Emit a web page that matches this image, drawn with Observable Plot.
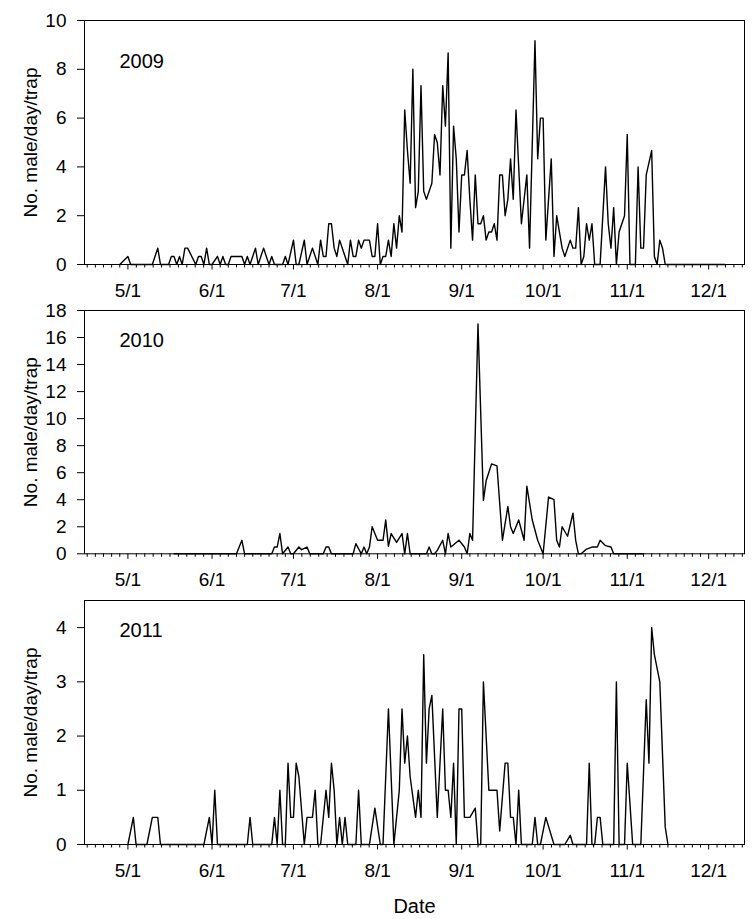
<!DOCTYPE html>
<html>
<head>
<meta charset="utf-8">
<script src="https://cdn.jsdelivr.net/npm/d3@7"></script>
<script src="https://cdn.jsdelivr.net/npm/@observablehq/plot@0.6"></script>
<style>
  html, body { margin: 0; padding: 0; background: #fff; }
  #chart svg { display: block; }
</style>
</head>
<body>
<div id="chart"></div>
<script>
// ---- data ----
const dates2009 = ["4/28","5/1","5/2","5/10","5/12","5/13","5/16","5/17","5/18","5/19","5/20","5/21","5/22","5/23","5/26","5/27","5/28","5/29","5/30","5/31",
  "6/1","6/3","6/4","6/5","6/6","6/7","6/8","6/12","6/13","6/14","6/15","6/17","6/18","6/20","6/21","6/22","6/23","6/24","6/27","6/28","6/29",
  "7/1","7/2","7/3","7/5","7/6","7/8","7/10","7/11","7/12","7/13","7/14","7/15","7/16","7/17","7/18","7/21","7/22","7/23","7/24","7/25","7/26","7/27","7/28","7/29","7/30","7/31",
  "8/1","8/2","8/3","8/4","8/5","8/6","8/7","8/8","8/9","8/10","8/11","8/12","8/13","8/14","8/15","8/16","8/17","8/18","8/19","8/21","8/22","8/23","8/24","8/25","8/26","8/27","8/28","8/29","8/30","8/31",
  "9/1","9/2","9/3","9/4","9/5","9/6","9/7","9/8","9/9","9/10","9/11","9/12","9/13","9/14","9/15","9/16","9/17","9/18","9/19","9/20","9/21","9/23","9/25","9/26","9/28","9/29","9/30",
  "10/1","10/2","10/4","10/5","10/6","10/8","10/9","10/11","10/12","10/13","10/14","10/15","10/16","10/17","10/18","10/19","10/20","10/22","10/24","10/25","10/26","10/27","10/28","10/29","10/31",
  "11/1","11/2","11/4","11/5","11/6","11/7","11/8","11/10","11/11","11/12","11/13","11/14","11/15","12/7"];
const values2009 = [0,0.33,0,0,0.67,0,0,0.33,0.33,0,0.33,0,0.67,0.67,0,0.33,0.33,0,0.67,0,
  0,0.33,0,0.33,0,0,0.33,0.33,0,0.33,0,0.67,0,0.67,0.33,0,0.33,0,0,0.33,0,
  1,0,0,1,0,0.67,0,1,0.33,0.33,1.67,1.67,0.67,0.33,1,0,1,0.33,0.33,1,0.67,1,1,1,0.33,0.33,
  1.67,0,0.33,0.33,1,0.33,1.67,0.67,2,1.33,6.33,4.67,3.33,8,2.33,3,7.33,3,2.67,3.33,5.33,5,3.67,7.33,5.67,8.67,0.67,5.67,4.33,1.33,
  3.67,3.67,4.67,2.67,1,3.67,1.67,1.67,2,1,1.33,1.33,1.67,1,3.67,3.67,2,2.67,4.33,2.67,6.33,1.67,3.67,0.67,9.17,4.33,6,
  6,1,4.33,0.33,2,0.67,0.33,1,0.67,0.67,2.33,0,0.33,1.67,1,1.67,0,0,4,1.67,0.67,2.33,0,1.33,2,
  5.33,0,0,4,0.67,0.67,3.67,4.67,0.33,0,1,0.67,0,0];

const dates2010 = ["5/18","6/10","6/12","6/13","6/23","6/24","6/25","6/26","6/27","6/29","6/30",
  "7/1","7/3","7/4","7/6","7/7","7/12","7/13","7/14","7/15","7/23","7/24","7/26","7/27","7/28","7/29","7/30",
  "8/1","8/3","8/4","8/5","8/6","8/8","8/10","8/11","8/12","8/13","8/19","8/20","8/21","8/22","8/23","8/25","8/26","8/27","8/28","8/31",
  "9/2","9/3","9/4","9/5","9/7","9/9","9/10","9/12","9/14","9/16","9/18","9/19","9/20","9/22","9/24","9/25","9/27","9/29","9/30",
  "10/1","10/3","10/5","10/6","10/7","10/8","10/10","10/12","10/13","10/14","10/15","10/17","10/19","10/21","10/22","10/24","10/26","10/27","11/7"];
const values2010 = [0,0,1,0,0,0.5,0.5,1.5,0,0.5,0,
  0,0.5,0.3,0.5,0,0,0.5,0.5,0,0,0.75,0,0.5,0,0.5,2,
  1,1,2.5,0.55,1.5,0.85,1.5,0,1.5,0,0,0.5,0,0,0.25,1,0,1.5,0.5,1,
  0.5,0,1.5,1,17,3.95,5.4,6.65,6.5,1,3.5,2,1.5,2.5,1,5,2.5,1,0.5,
  0,4.2,4,1,0.5,2,1.3,3,1,0,0,0.35,0.5,0.5,1,0.6,0.5,0,0];

const dates2011 = ["5/1","5/3","5/4","5/8","5/10","5/12","5/13","5/29","5/31",
  "6/1","6/2","6/3","6/14","6/15","6/16","6/23","6/24","6/25","6/26","6/27","6/28","6/29","6/30",
  "7/1","7/2","7/3","7/5","7/6","7/8","7/9","7/10","7/11","7/13","7/14","7/15","7/16","7/17","7/18","7/19","7/20","7/21","7/24","7/25","7/26","7/29","7/31",
  "8/2","8/3","8/5","8/7","8/9","8/10","8/11","8/12","8/13","8/15","8/16","8/17","8/18","8/19","8/20","8/21","8/23","8/25","8/26","8/27","8/28","8/29","8/30","8/31",
  "9/1","9/2","9/4","9/6","9/7","9/8","9/9","9/11","9/14","9/15","9/17","9/18","9/19","9/20","9/21","9/22","9/23","9/27","9/28","9/29","9/30",
  "10/2","10/5","10/9","10/11","10/12","10/17","10/18","10/19","10/20","10/21","10/22","10/23","10/27","10/28","10/29","10/31",
  "11/1","11/3","11/6","11/8","11/9","11/10","11/11","11/13","11/15","11/16"];
const values2011 = [0,0.5,0,0,0.5,0.5,0,0,0.5,
  0,1,0,0,0.5,0,0,0.5,0,1,0,0,1.5,0.5,
  0.5,1.5,1.25,0,0.5,0.5,1,0,0,1,0.5,1.5,1,0,0.5,0,0.5,0,0,1,0,0,0.67,
  0,0,2.5,0,1,2.5,1.5,2,1.25,0.5,1,0.5,3.5,1.5,2.5,2.75,0.5,2.5,1,1,0.5,1.5,0,2.5,
  2.5,0.5,0.5,0.67,0,0,3,1,1,0.25,1.5,1.5,0.5,0.5,0,1,0,0,0.5,0,0,
  0.5,0,0,0.17,0,0,1.5,0,0,0.5,0.5,0,0,3,0,0,
  1.5,0,0,2.67,1.5,4,3.5,3,0.32,0];

const monthTickLabels = ["5/1","6/1","7/1","8/1","9/1","10/1","11/1","12/1"];
const minorTickMonths = [4,5,6,7,8,9,10,11,12];
const yTicks2009 = [0,2,4,6,8,10];
const yTicks2010 = [0,2,4,6,8,10,12,14,16,18];
const yTicks2011 = [0,1,2,3,4];
const yLabel = "No. male/day/trap";
const xLabel = "Date";

// ---- helpers ----
function toDate(year, md) {
  const [m, d] = md.split("/").map(Number);
  return new Date(Date.UTC(year, m - 1, d));
}
function minorTicks(year) {
  const out = [];
  for (const m of minorTickMonths) {
    const start = Date.UTC(year, m - 1, 1);
    const end = Date.UTC(year, m, 1);
    for (let k = 1; k < 10; k++) out.push(new Date(start + (end - start) * k / 10));
  }
  return out;
}

const FONT = "'Liberation Sans', Arial, Helvetica, sans-serif";

function panel({year, dates, values, yMax, yTicks, height, marginTop, marginBottom, yearDy, showDate}) {
  const data = dates.map((md, i) => ({date: toDate(year, md), value: values[i]}));
  const domain = [new Date(Date.UTC(year, 3, 15)), new Date(Date.UTC(year, 11, 14, 5))];
  const majors = monthTickLabels.map(md => toDate(year, md));
  const minors = minorTicks(year).filter(d => d >= domain[0] && d <= domain[1]);
  return Plot.plot({
    width: 756,
    height,
    marginLeft: 84,
    marginRight: 12,
    marginTop,
    marginBottom,
    style: {fontFamily: FONT, fontSize: "19px", color: "black", background: "white", overflow: "visible"},
    x: {type: "utc", domain},
    y: {domain: [0, yMax]},
    marks: [
      Plot.axisY({ticks: yTicks, tickSize: 7, tickPadding: 11, label: null, tickFormat: d => String(d)}),
      Plot.axisX({ticks: minors, tickSize: 3.5, tickFormat: () => "", label: null}),
      Plot.axisX({ticks: majors, tickSize: 5.5, tickPadding: 13, label: null,
        tickFormat: (d, i) => monthTickLabels[i]}),
      Plot.line(data, {x: "date", y: "value", stroke: "black", strokeWidth: 1.4}),
      Plot.frame({stroke: "black", strokeWidth: 1}),
      Plot.text([String(year)], {frameAnchor: "top-left", dx: 35, dy: yearDy, lineAnchor: "top", textAnchor: "start", fontSize: 20}),
      Plot.text([yLabel], {frameAnchor: "left", dx: -54, rotate: -90, textAnchor: "middle", lineAnchor: "middle", fontSize: 19}),
      showDate ? Plot.text([xLabel], {frameAnchor: "bottom", dy: 54, lineAnchor: "top", textAnchor: "middle", fontSize: 20}) : null
    ]
  });
}

const chart = document.getElementById("chart");
chart.append(panel({year: 2009, dates: dates2009, values: values2009, yMax: 10, yTicks: yTicks2009,
  height: 300, marginTop: 20, marginBottom: 36, yearDy: 33, showDate: false}));
chart.append(panel({year: 2010, dates: dates2010, values: values2010, yMax: 18, yTicks: yTicks2010,
  height: 290, marginTop: 10, marginBottom: 36.7, yearDy: 22.7, showDate: false}));
chart.append(panel({year: 2011, dates: dates2011, values: values2011, yMax: 4.5, yTicks: yTicks2011,
  height: 329, marginTop: 10, marginBottom: 75, yearDy: 22.7, showDate: true}));
</script>
</body>
</html>
